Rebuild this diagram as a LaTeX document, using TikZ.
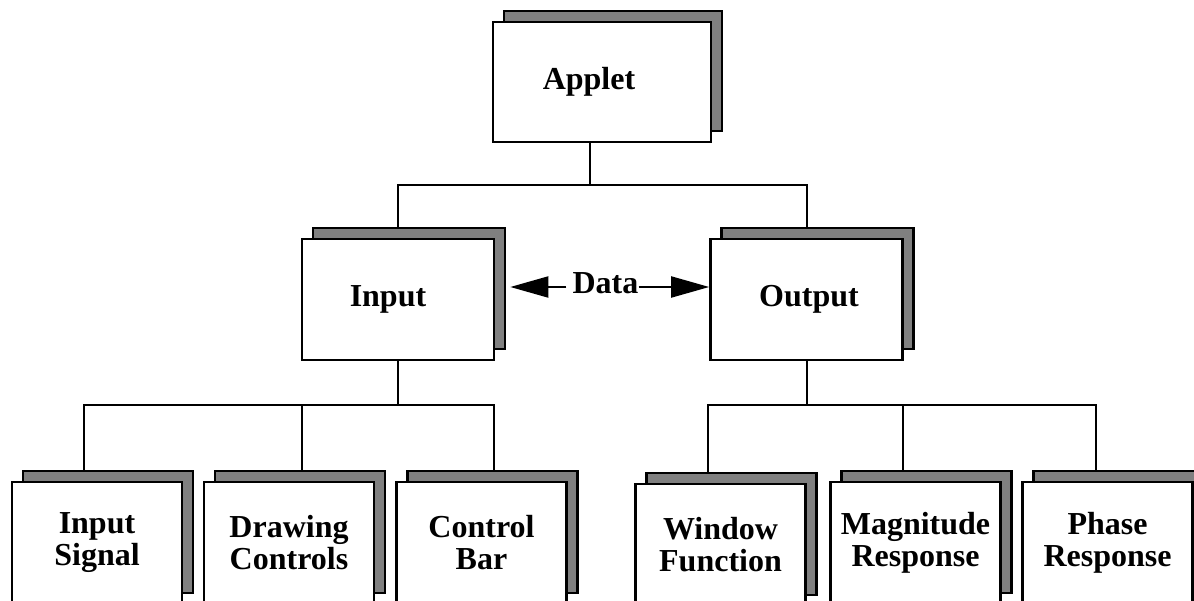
\documentclass[tikz,border=0pt]{standalone}
\usepackage{fontspec}
\setmainfont{Liberation Serif}
\usepackage{tikz}
\usetikzlibrary{arrows.meta}
\usetikzlibrary{shadows}
\usetikzlibrary{backgrounds}

\definecolor{cardshadow}{gray}{0.5}

\tikzset{
  card/.style={draw=black, fill=white, line width=2.6pt, inner sep=0pt,
    align=center, font=\bfseries\fontsize{32}{32}\selectfont,
    copy shadow={shadow xshift=11pt, shadow yshift=11pt,
      fill=cardshadow, draw=black, line width=2.6pt}},
  nudge/.style={execute at begin node={\hspace*{#1}}},
  wire/.style={line width=2pt},
  dataarrow/.style={line width=2pt, -{Triangle[length=38pt,width=21pt]}}
}

\begin{document}
\begin{tikzpicture}[x=1pt,y=-1pt]

\useasboundingbox (0,0) rectangle (1194,601);

% top level
\node[card, nudge=-26pt, minimum width=218pt, minimum height=120pt] (applet) at (602,82) {Applet};

% middle row
\begin{scope}[minimum width=192pt, minimum height=121pt]
\node[card, nudge=-20pt] (input) at (398,299.5)   {Input};
\node[card, nudge=5pt]   (output) at (806.5,299.5) {Output};
\end{scope}

% bottom row
\begin{scope}[minimum width=170pt, minimum height=122pt]
\node[card] (insig)   at (97,543)     {Input\\Signal};
\node[card] (drawctl) at (289,543)    {Drawing\\Controls};
\node[card] (ctlbar)  at (481.5,543)  {Control\\Bar};
\node[card] (window)  at (720.5,545)  {Window\\Function};
\node[card] (magresp) at (915.5,543)  {Magnitude\\Response};
\node[card] (phresp)  at (1107.5,543) {Phase\\Response};
\end{scope}

% tree lines, kept behind the cards
\begin{scope}[on background layer]
\draw[wire] ([xshift=-12pt]applet.south) -- ++(0,42) coordinate (abus);
\draw[wire] (input.north) |- (abus) -| (output.north);

\draw[wire] (input.south) -- ++(0,44) coordinate (ibus);
\draw[wire] ([xshift=-13pt]insig.north) |- (ibus) -| ([xshift=12.5pt]ctlbar.north);
\draw[wire] (ibus) -| ([xshift=13pt]drawctl.north);

\draw[wire] (output.south) -- ++(0,44) coordinate (obus);
\draw[wire] ([xshift=-12.5pt]window.north) |- (obus) -| ([xshift=-11.5pt]phresp.north);
\draw[wire] (obus) -| ([xshift=-12.5pt]magresp.north);
\end{scope}

% data exchange
\node[inner sep=0pt, font=\bfseries\fontsize{32}{32}\selectfont] (data) at (605.5,283) {Data};
\coordinate (dataline) at (0,287);
\draw[dataarrow] ([xshift=-6pt]data.west |- dataline) -- ([xshift=15pt]input.east |- dataline);
\draw[dataarrow] (data.east |- dataline) -- (output.west |- dataline);

\end{tikzpicture}
\end{document}
